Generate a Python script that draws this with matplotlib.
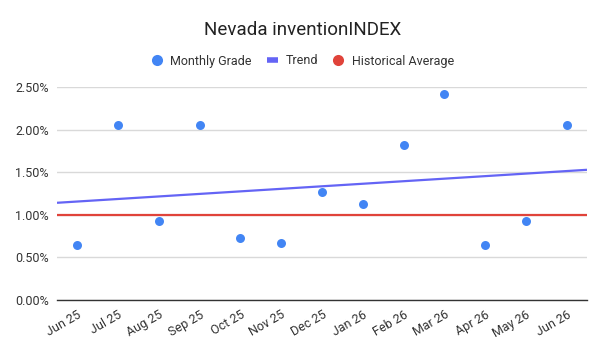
import numpy as np
import matplotlib
matplotlib.use("Agg")
import matplotlib.pyplot as plt
from matplotlib.lines import Line2D

plt.rcParams['font.family'] = ['Roboto', 'DejaVu Sans']

months = ["Jun 25", "Jul 25", "Aug 25", "Sep 25", "Oct 25", "Nov 25", "Dec 25",
          "Jan 26", "Feb 26", "Mar 26", "Apr 26", "May 26", "Jun 26"]
grades = [0.65, 2.05, 0.93, 2.05, 0.73, 0.67, 1.27, 1.13, 1.82, 2.42, 0.65, 0.93, 2.05]
historical_average = 1.00
y_ticks = [0.0, 0.5, 1.0, 1.5, 2.0, 2.5]
y_tick_labels = ["0.00%", "0.50%", "1.00%", "1.50%", "2.00%", "2.50%"]

BLUE = "#4285F4"
TREND = "#6464F5"
RED = "#E0433A"
TEXT = "#333333"

fig = plt.figure(figsize=(6.05, 3.51), dpi=100)
ax = fig.add_axes([57/605, 1-300/351, 530/605, 213/351])

x = np.arange(len(months))
xlim = (-0.49, len(months) - 1 + 0.49)

# trend (linear regression)
slope, intercept = np.polyfit(x, grades, 1)
tx = np.array(xlim)
ax.plot(tx, slope*tx + intercept, color=TREND, lw=1.6, zorder=3, solid_capstyle='butt')

ax.axhline(historical_average, color=RED, lw=1.6, zorder=3)
ax.scatter(x, grades, s=42, color=BLUE, zorder=4, linewidths=0)

ax.set_xlim(*xlim)
ax.set_ylim(0, 2.5)
ax.set_yticks(y_ticks)
ax.set_yticklabels(y_tick_labels)
ax.set_xticks(x)
ax.set_xticklabels(months, rotation=30, ha='right', rotation_mode='anchor')
ax.tick_params(axis='both', length=0, labelsize=9, labelcolor=TEXT)
ax.tick_params(axis='y', pad=6)
ax.tick_params(axis='x', pad=6)
ax.grid(axis='y', color='#d9d9d9', lw=1)
ax.set_axisbelow(True)
for s in ['top', 'right', 'left']:
    ax.spines[s].set_visible(False)
ax.spines['bottom'].set_color('#333333')
ax.spines['bottom'].set_linewidth(1)

fig.text(0.5, 1-30/351, "Nevada inventionINDEX", ha='center', va='center',
         fontsize=13.5, color='#222222')

handles = [
    Line2D([], [], marker='o', color=BLUE, ls='', markersize=8, markeredgewidth=0),
    Line2D([], [], color=TREND, lw=4, solid_capstyle='butt'),
    Line2D([], [], marker='o', color=RED, ls='', markersize=8, markeredgewidth=0),
]
fig.legend(handles, ["Monthly Grade", "Trend", "Historical Average"],
           loc='center', bbox_to_anchor=(0.5, 1-61/351), ncol=3, frameon=False,
           fontsize=9, handlelength=0.9, handletextpad=0.6, columnspacing=1.2,
           labelcolor=TEXT)

fig.savefig("out.png", dpi=100)
